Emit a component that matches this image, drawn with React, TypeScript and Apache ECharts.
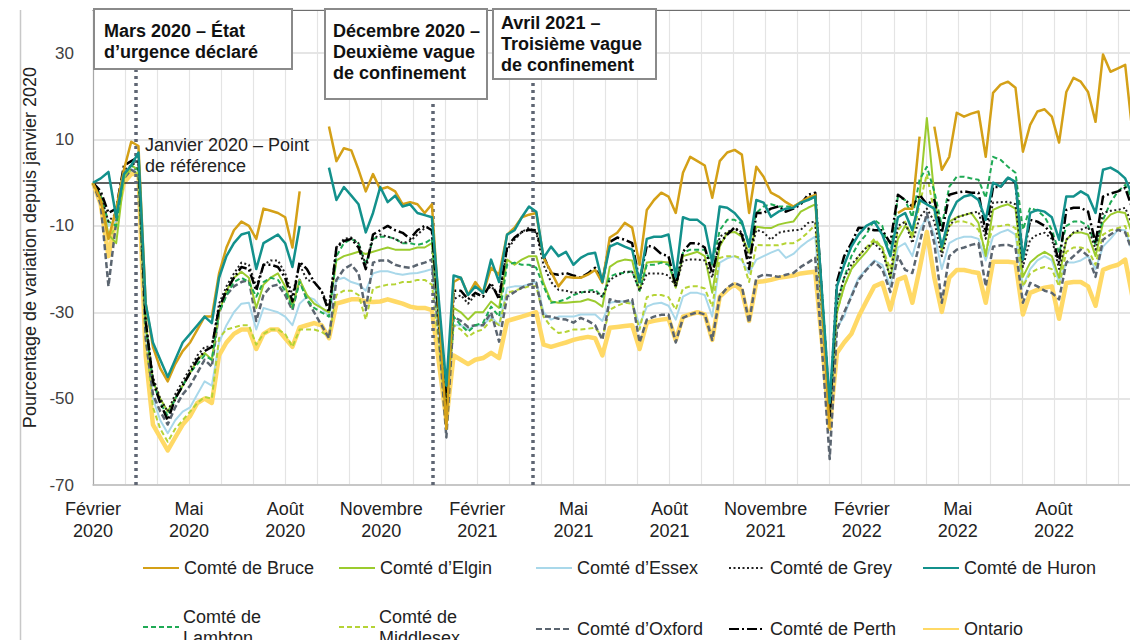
import React, { useEffect, useRef } from 'react';
import * as echarts from 'echarts';

const START_DATE = '2020-02-01';
const MONTH_NAMES = ['Janvier', 'Février', 'Mars', 'Avril', 'Mai', 'Juin', 'Juillet', 'Août', 'Septembre', 'Octobre', 'Novembre', 'Décembre'];
const EVENT_DATES = ['2020-03-12', '2020-12-20', '2021-03-24'];
const Y_TICKS_HIDDEN = [40];

const ONTARIO = [
  0, -5, -17, -8, 0, 2, 2,
  -40, -56, -59, -62, -59, -56, -54, -51, -50, -51,
  -40, -37, -35, -34, -34, -38.5, -35, -34, -34, -36, -38, -33.5,
  -33, -32.5, -33, -36,
  -28, -27.5, -27, -27, -27.5, -27.6, -27.5, -27, -27.5, -28, -28.7, -29, -29, -29.5,
  -42, -55,
  -40, -41, -42, -41, -40.6, -39.4, -40.6, -32, -31.5, -31, -30.5, -30, -37.5,
  -38, -37.5, -37, -36.4, -36, -35.7, -36, -40, -33.6, -33.4, -33.2, -33,
  -38.5, -32.4, -32, -31.7, -31.5, -36.4, -31, -30.5, -30, -30.5, -36.4, -26.4, -24.8, -23.5, -25, -32, -23, -22.8, -22.5, -22, -21.8, -21.5, -21, -20.8, -20.6,
  -38, -57,
  -39.4, -37, -35, -31, -27.5, -24, -23.2,
  -29.4, -22.5, -21.8, -27.8, -20, -11.4, -22, -29.9, -22, -20.2, -20.2, -20.6, -20.9, -27.8, -18.3, -18.3, -18.3, -18.5, -30.5, -25.5, -24.8, -24.3, -24, -31.5, -23.2, -23, -23, -24, -28.5, -20.2, -19.5, -19, -17.8, -26.4,
];

const BRUCE = [
  0, -4, -13, -6, 3, 9.5, 8.5,
  -28, -38, -43, -46, -42, -39, -37, -34, -31, -31,
  -21, -15, -11, -9, -10, -13, -6, -6.5, -7, -8, -15, -2,
  null, null, null, 13,
  5, 8, 7.5, 3, -2, 2, -1.5, -1, -2, -5, -4.5, -5, -7, -5,
  -30, -57,
  -23, -22, -26, -23, -25.5, -19.7, -21.3, -12, -10.4, -8, -7.4, -7, -17.4,
  -20.6, -24, -21.8, -22, -22, -21.3, -20.2, -23.2, -12.7, -11.6, -9.3, -10.4,
  -19, -6.3, -4, -2.3, -3.2, -7, 2.3, 6, 5, 4, -3.5, 5, 7, 7.6, 6.5, -7, 3.7, 1.4, -2.3, -3.2, -4.5, -5.5, -4.5, -3.5, -2.8,
  -30, -57,
  null, null, null, null, null, null, null,
  null, -7, -6, -6, 10.7, null, 13, 3, 6, 16.2, 15.3, 16, 16.5, 6, 20.8, 22.7, 23.4, 22, 7.2, 13.4, 16.5, 17, 15.3, 9.3, 21, 24.3, 23.4, 21, 14.1, 29.7, 25.7, 26.5, 27.3, 11.6,
];

const HURON = [
  0, 1, 2.5, -8, 2, 4, 7,
  -28, -37, -41, -45, -41, -37, -35, -33, -31, -32.5,
  -22, -17, -14, -12, -11.5, -20, -14, -13, -12, -14, -19.5, -10,
  null, null, null, 3.5,
  -4, -1, -3, -5, -11.5, -7, -1, -4.5, -3, -5.5, -5, -7, -7.5, -8,
  -28, -47,
  -21.5, -22, -26, -24, -25.5, -17.8, -23, -12, -11, -8, -5.5, -6.7, -17.4,
  -14.8, -17, -16, -19, -17.4, -16.5, -16.2, -23, -14.8, -14, -14.8, -15.5,
  -23, -13, -12.5, -12.5, -12, -21.8, -8, -8.6, -8.6, -10, -18.5, -5.5, -5.8, -7, -9, -14.8, -4, -4.6, -7.9, -6.7, -6, -5.8, -4.6, -4, -3.2,
  -27, -51,
  -24, -19, -14.8, -12, -10, -9, -12,
  -17, -8, -7, -11, -4, -5, -6, -14.8, -7.9, -4.4, -3.2, -2.8, -4, -8.6, 0, -0.9, 1.2, 0.2, -17.8, -7, -6.3, -6.7, -8, -13.2, -3.2, -3.2, -2, -3, -7, 3, 3.5, 2.5, 1, -3,
];

const PERTH = [
  0, -2, -7, -6, 4, 5, 6,
  -32, -46, -51, -55, -50, -47, -44, -41, -39, -38,
  -29, -25, -22, -19.5, -20, -25, -19, -19, -19.5, -22, -27.5, -18.3,
  -20, -23, -25, -30,
  -15, -13.5, -13, -15, -20, -12, -11, -10, -11, -11.6, -13, -11, -10, -11,
  -32, -52,
  -25, -25, -27, -25.5, -26.4, -23.2, -27, -14.8, -12.7, -11.4, -10.9, -11, -17,
  -21, -21.3, -20.9, -21.5, -22, -21, -19.7, -23, -13.7, -12.7, -13.2, -14,
  -23, -14.5, -15, -16.5, -17, -24, -16, -14, -14, -15, -21, -14, -12, -10.4, -12, -20, -7, -7, -6, -5.5, -6.7, -6, -5, -2.8, -2.3,
  -28, -54,
  -23, -17, -14, -10.4, -10.5, -11, -11,
  -14, -2.8, -4, -5.5, -2.8, -5, -4, -11.6, -2.8, -2.3, -2, -2.3, -2.3, -11.6, -1, -1, 1.2, 0, -17.8, -8.6, -9, -10, -12, -18.5, -6.3, -5.8, -5.8, -6.7, -14, -3.2, -2.5, -2, -1.2, -6,
];

const GREY = [
  0, -3, -9, -7, 3, 4, 5,
  -32, -45, -50, -53, -49, -46, -43, -40, -38, -38,
  -28, -24, -21, -18.5, -19, -24, -19, -18, -18, -21, -26, -19,
  -22.5, -23, -25, -28.7,
  -15, -13, -12.7, -14, -19, -13, -12, -12.5, -13, -14, -13.5, -12, -10.5, -10,
  -32, -53,
  -27, -26, -28, -26, -25.5, -24, -26, -15.5, -13.2, -11.4, -10.4, -11.6, -19,
  -23, -24.8, -25, -25.5, -25.3, -25.3, -25.3, -26.4, -22.5, -21.5, -20.6, -20.6,
  -25, -21, -21, -21, -21.5, -24, -18, -17.8, -17.8, -18, -22, -12.5, -11.5, -10.4, -11.5, -17.8, -10.9, -11.5, -13.2, -11.6, -11.2, -11, -10.9, -9.3, -9,
  -31, -54,
  -28, -22, -19, -17, -15, -14, -16,
  -22, -10, -9, -14, -8, -6, -9, -17, -10, -8, -7.5, -7, -6.7, -13, -4.6, -4.5, -4.4, -5, -19.5, -13.2, -12, -11.6, -13, -20, -13.2, -11.5, -10.9, -10.2, -15.5, -7, -6.5, -6.3, -5.8, -10,
];

const ELGIN = [
  0, -3, -12, -14, 1, 4, 3,
  -33, -46, -50, -53, -50, -47, -44, -41, -39.4, -41,
  -30, -25, -22, -20.6, -22, -29, -23.6, -22, -21, -24, -28.7, -22.5,
  -26, -28, -29, -30,
  -18, -17, -16.5, -16, -16.5, -16, -15.5, -15, -15.5, -15.5, -15.5, -15, -15, -14,
  -33, -52,
  -29, -30, -31.7, -30, -30, -27.5, -29, -17.8, -19, -17.8, -17, -17, -23.2,
  -27.5, -27.8, -27.8, -27.6, -27.5, -27, -27.5, -28.7, -19.5, -18.3, -17.8, -18,
  -25, -18.5, -18.3, -18.3, -18.5, -24.3, -17, -16.5, -16, -17, -25.5, -14.8, -11.6, -11.4, -12.5, -16.2, -10.2, -10.4, -10.5, -9.7, -9.3, -9, -6.7, -5.8, -5,
  -28, -52,
  -30, -24, -20, -18, -16, -13.5, -15,
  -22, -13, -10, -12, -3, 15, -3, -16, -9, -8, -7.5, -7, -9.3, -17, -6.3, -5.5, -5, -6, -21.8, -18.5, -17, -16, -17, -22, -13.2, -11.6, -11.5, -12, -17, -9.3, -7.4, -6.7, -7, -12,
];

const LAMBTON = [
  0, -3, -9, -10, 2, 4, 3,
  -33, -46, -51, -54, -50, -47, -44, -42, -40, -41,
  -30, -26, -23, -22, -23, -26.4, -23, -22, -22.5, -25, -29, -23,
  -27, -29, -30, -31,
  -17, -14, -13, -14, -19, -13, -12.5, -12.5, -13, -14, -14, -14.4, -14, -13,
  -33, -50,
  -31, -33, -34.5, -33, -32.4, -28.7, -31, -19, -18.5, -19, -19, -19.7, -24,
  -27.8, -27.5, -27, -26, -25.5, -25, -24.8, -26.4, -21.8, -21, -20.9, -20.5,
  -25, -19, -19, -18.5, -19, -23, -16.2, -15.5, -15.5, -15.5, -19, -11, -8.6, -8.6, -9.5, -14, -7, -5.5, -5, -5.5, -5.5, -5.5, -4.6, -4, -3.2,
  -27, -51,
  -28, -22, -17, -14, -12, -8.6, -10,
  -17, -3.2, -4, -8, 0.7, 3.7, -2, -10, -0.9, 1.4, 1.4, 1, 0.7, -3.5, 6, 5.3, 3.7, 2.3, -10.9, -5.8, -6.5, -7.9, -10.9, -16.2, -10, -9, -9, -10, -14.4, -8.6, -4.6, -2, -0.5, -4,
];

const MIDDLESEX = [
  0, -4, -13, -10, 1, 3, 2,
  -36, -52, -57, -60, -57, -55, -53, -51, -49.6, -50,
  -36, -34, -33.5, -33, -33, -37.5, -35, -34, -34, -35, -38, -34,
  -34, -34, -34.5, -35.7,
  -26, -25, -25, -26, -31.7, -24.5, -24, -23.6, -23.5, -23, -23, -22.5, -22.5, -23.6,
  -38, -55,
  -33, -34, -35.7, -34.5, -34, -31.7, -33, -25.5, -25, -24.5, -24, -24, -31,
  -33.4, -34.8, -34.5, -34, -34, -33.8, -33.6, -35.7, -29.4, -28.5, -27.8, -28,
  -34, -26.5, -26, -26, -26.5, -29.4, -24.5, -24, -24, -24.5, -28.7, -17.4, -17, -17, -17.5, -23, -14.4, -14.5, -14.5, -14.5, -14, -14, -13, -11.5, -9.7,
  -32, -55,
  -30, -24, -20, -17, -15, -13, -15,
  -20, -11, -9, -13, -5, 2, -7, -15, -10, -9, -9, -9.5, -10.9, -16, -10.2, -10, -9.7, -10.5, -24, -21, -20, -19.5, -20, -24, -16, -15, -15, -15.5, -19, -12, -11, -10.5, -10, -15,
];

const ESSEX = [
  0, -3, -10, -9, 1, 3, 3,
  -35, -50, -55, -58, -55, -53, -52, -49, -46, -47,
  -37, -33, -30, -28, -27.8, -34, -29, -29.5, -30, -31, -33, -28,
  -26.4, -27, -29, -31,
  -22.5, -22, -23, -23.5, -25, -21, -20.5, -20.5, -21, -21.3, -21, -20.9, -20.5, -20,
  -36, -54,
  -33, -33, -34, -33, -33, -31, -33, -24.3, -24, -24, -23.5, -23, -30,
  -31.7, -31, -31, -31, -30.5, -30.5, -30.5, -32, -27.8, -27.5, -27.5, -27.8,
  -33, -28.7, -28, -27.8, -28.5, -31.7, -26.4, -25.5, -25.5, -26, -31, -18.5, -17.5, -17, -18, -20.9, -17.8, -17, -16.2, -15.5, -17.4, -16.5, -14.8, -13.5, -12.5,
  -33, -53,
  -33.4, -31, -26, -22, -20, -18, -19,
  -24, -15, -14, -17, -11, -8, -12, -20, -14, -13, -12.5, -12.5, -13, -18, -12.5, -11.5, -10.9, -12, -24, -20, -18, -17, -18, -23, -18.5, -18.5, -18, -17, -20, -14.8, -13, -10.9, -11, -16,
];

const OXFORD = [
  0, -5, -24, -9, 1, 3, 2,
  -36, -49, -53, -56, -52, -49, -47, -44, -41, -42.6,
  -30, -26, -24, -23, -22.5, -32, -26, -24, -23.6, -26, -29.5, -22.5,
  -27, -30, -33, -36,
  -22.5, -20, -19, -21, -29.5, -18.5, -18, -18, -19, -19.5, -19.7, -19, -18.5, -17.8,
  -36, -59,
  -31, -32, -33.4, -33, -33, -30, -36.8, -26.4, -25.3, -24.3, -23.6, -23.2, -31,
  -31, -31.5, -31.7, -32.4, -31.3, -32, -33, -36.4, -27, -27.5, -27.5, -27,
  -37, -31.7, -31, -30.6, -30.5, -37, -31.3, -30.5, -30, -30.5, -36.4, -26.4, -24.3, -23.2, -24, -32.4, -22, -21.3, -21.5, -21.8, -21.3, -20.9, -19.5, -18.5, -17.4,
  -40, -64,
  -34, -30, -26.4, -22.5, -20.2, -18.3, -20,
  -25.3, -17, -20.2, -20.9, -14, -7, -14, -27.8, -17, -15.5, -15, -14.4, -14, -24, -14.8, -14.5, -14.4, -15, -27.8, -23.2, -24, -25, -25.5, -27, -18.5, -17, -15.5, -17, -21.8, -13.2, -12, -10.9, -11.5, -16,
];

const FONT = '"Liberation Sans", Arial, Helvetica, sans-serif';

// month position (0 = 1 Feb 2020) from a date
function monthPos(d: Date): number {
  const y = d.getUTCFullYear();
  const m = d.getUTCMonth();
  const day = d.getUTCDate();
  const dim = new Date(Date.UTC(y, m + 1, 0)).getUTCDate();
  return (y - 2020) * 12 + m - 1 + (day - 1) / dim;
}
const startMs = Date.parse(START_DATE + 'T00:00:00Z');
const weekPos = (i: number) => monthPos(new Date(startMs + i * 7 * 86400000));
const datePos = (s: string) => monthPos(new Date(Date.parse(s + 'T00:00:00Z')));

const SERIES_DEFS = [
  { name: 'Ontario', values: ONTARIO, color: '#FFD966', width: 4.5, type: 'solid' as any },
  { name: 'Comté d’Essex', values: ESSEX, color: '#A9D8EA', width: 2, type: 'solid' as any },
  { name: 'Comté de Middlesex', values: MIDDLESEX, color: '#B5D335', width: 2, type: [5, 3] },
  { name: 'Comté d’Oxford', values: OXFORD, color: '#5B6570', width: 2.5, type: [6, 3] },
  { name: 'Comté d’Elgin', values: ELGIN, color: '#9BCB2E', width: 2, type: 'solid' as any },
  { name: 'Comté de Lambton', values: LAMBTON, color: '#1FAA55', width: 2, type: [5, 3] },
  { name: 'Comté de Grey', values: GREY, color: '#222222', width: 2, type: [2, 2.5] },
  { name: 'Comté de Perth', values: PERTH, color: '#000000', width: 2.5, type: [10, 3, 2, 3] },
  { name: 'Comté de Bruce', values: BRUCE, color: '#D4A017', width: 2.5, type: 'solid' as any },
  { name: 'Comté de Huron', values: HURON, color: '#13918C', width: 2.5, type: 'solid' as any },
];

const LEGEND_LAYOUT = [
  { name: 'Comté de Bruce', left: 142, top: 559 },
  { name: 'Comté d’Elgin', left: 338, top: 559 },
  { name: 'Comté d’Essex', left: 535, top: 559 },
  { name: 'Comté de Grey', left: 728, top: 559 },
  { name: 'Comté de Huron', left: 922, top: 559 },
  { name: 'Comté de Lambton', left: 142, top: 620, label: 'Comté de\nLambton' },
  { name: 'Comté de Middlesex', left: 338, top: 620, label: 'Comté de\nMiddlesex' },
  { name: 'Comté d’Oxford', left: 535, top: 620 },
  { name: 'Comté de Perth', left: 728, top: 620 },
  { name: 'Ontario', left: 922, top: 620 },
];

export default function App() {
  const ref = useRef<HTMLDivElement>(null);
  useEffect(() => {
    if (!ref.current) return;
    const chart = echarts.init(ref.current, null, { renderer: 'svg' });
    const series: any[] = SERIES_DEFS.map((s, idx) => ({
      name: s.name,
      type: 'line',
      data: s.values.map((v, i) => [weekPos(i), v]),
      symbol: 'none',
      showSymbol: false,
      connectNulls: false,
      z: 2 + idx,
      lineStyle: { color: s.color, width: s.width, type: s.type, cap: 'butt', join: 'round' },
      itemStyle: { color: s.color },
      emphasis: { disabled: true },
      silent: true,
    }));
    series[0].markLine = {
      silent: true,
      symbol: ['none', 'none'],
      label: { show: false },
      lineStyle: { color: '#2b2b2b', width: 1.5, type: 'solid' },
      data: [{ yAxis: 0 }],
    };
    series.push({
      name: 'events',
      type: 'line',
      data: [],
      z: 20,
      markLine: {
        silent: true,
        symbol: ['none', 'none'],
        label: { show: false },
        lineStyle: { color: '#5f6673', width: 3.5, type: [3, 4], cap: 'butt' },
        data: EVENT_DATES.map((d) => ({ xAxis: datePos(d) })),
      },
    });

    const legends = LEGEND_LAYOUT.map((l) => ({
      data: [l.name],
      left: l.left,
      top: l.top,
      padding: 0,
      itemWidth: 36,
      itemHeight: 14,
      selectedMode: false,
      itemStyle: { opacity: 0 },
      formatter: l.label ? () => '' : undefined,
      textStyle: { fontSize: 18, color: '#222', fontFamily: FONT },
    }));

    const legendTexts = LEGEND_LAYOUT.filter((l) => l.label).map((l) => ({
      type: 'text', z: 101, x: l.left + 41, y: l.top - 14,
      style: { text: l.label, fontSize: 18, fontFamily: FONT, fill: '#222', lineHeight: 21, verticalAlign: 'top', align: 'left' },
    }));

    const box = (x: number, y: number, w: number, h: number, text: string, tx: number, ty: number) => ({
      type: 'group',
      z: 100,
      children: [
        { type: 'rect', z: 100, shape: { x, y, width: w, height: h }, style: { fill: '#ffffff', stroke: '#8a8a8a', lineWidth: 2 } },
        {
          type: 'text', z: 101, x: tx, y: ty,
          style: { text, fontSize: 18, fontWeight: 'bold', fontFamily: FONT, fill: '#111', lineHeight: 21, verticalAlign: 'top', align: 'left' },
        },
      ],
    });

    chart.setOption({
      animation: false,
      textStyle: { fontFamily: FONT },
      grid: { left: 93, top: 10, width: 1057, height: 475, containLabel: false },
      xAxis: [
        {
          type: 'value', min: 0, max: 33, interval: 1,
          axisLine: { show: true, onZero: false, lineStyle: { color: '#bdbdbd', width: 1.5 } },
          axisTick: { show: false },
          splitLine: { show: true, lineStyle: { color: '#e4e4e4', width: 1.2 } },
          axisLabel: {
            fontSize: 18, color: '#222', lineHeight: 22, margin: 13, fontFamily: FONT,
            formatter: (v: number) => {
              const r = Math.round(v);
              if (r % 3 !== 0 || r >= 33) return '';
              const mi = (1 + r) % 12;
              const yr = 2020 + Math.floor((1 + r) / 12);
              return MONTH_NAMES[mi] + '\n' + yr;
            },
          },
        },
        {
          type: 'value', position: 'top', min: 0, max: 33,
          axisLine: { show: true, onZero: false, lineStyle: { color: '#6e6e6e', width: 1.2 } },
          axisTick: { show: false }, axisLabel: { show: false }, splitLine: { show: false },
        },
      ],
      yAxis: {
        type: 'value', min: -70, max: 40, interval: 20,
        axisLine: { show: true, onZero: false, lineStyle: { color: '#a8a8a8', width: 1.2 } },
        axisTick: { show: false },
        splitLine: { show: true, lineStyle: { color: '#dcdcdc', width: 1.5 } },
        axisLabel: {
          fontSize: 17, color: '#404040', margin: 19, fontFamily: FONT,
          formatter: (v: number) => (Y_TICKS_HIDDEN.includes(v) ? '' : String(v)),
        },
        name: 'Pourcentage de variation depuis janvier 2020',
        nameLocation: 'middle', nameGap: 51,
        nameTextStyle: { fontSize: 18, color: '#222', fontFamily: FONT },
      },
      legend: legends,
      series,
      graphic: [
        { type: 'line', z: 100, shape: { x1: 20.5, y1: 10, x2: 20.5, y2: 640 }, style: { stroke: '#c8c8c8', lineWidth: 1.5 } },
        box(94, 9, 198, 60, 'Mars 2020 – État\nd’urgence déclaré', 104, 20),
        box(325, 9, 162, 90, 'Décembre 2020 –\nDeuxième vague\nde confinement', 333, 20),
        box(493, 9, 163, 70, 'Avril 2021 –\nTroisième vague\nde confinement', 501, 12),
        {
          type: 'text', z: 101, x: 145, y: 134,
          style: { text: 'Janvier 2020 – Point\nde référence', fontSize: 18, fontFamily: FONT, fill: '#222', lineHeight: 21, verticalAlign: 'top', align: 'left' },
        },
        ...legendTexts,
      ],
    });
    return () => chart.dispose();
  }, []);
  return (
    <div style={{ position: 'absolute', left: 0, top: 0, width: 1130, height: 640, overflow: 'hidden' }}>
      <div ref={ref} style={{ width: 1170, height: 640 }} />
    </div>
  );
}
